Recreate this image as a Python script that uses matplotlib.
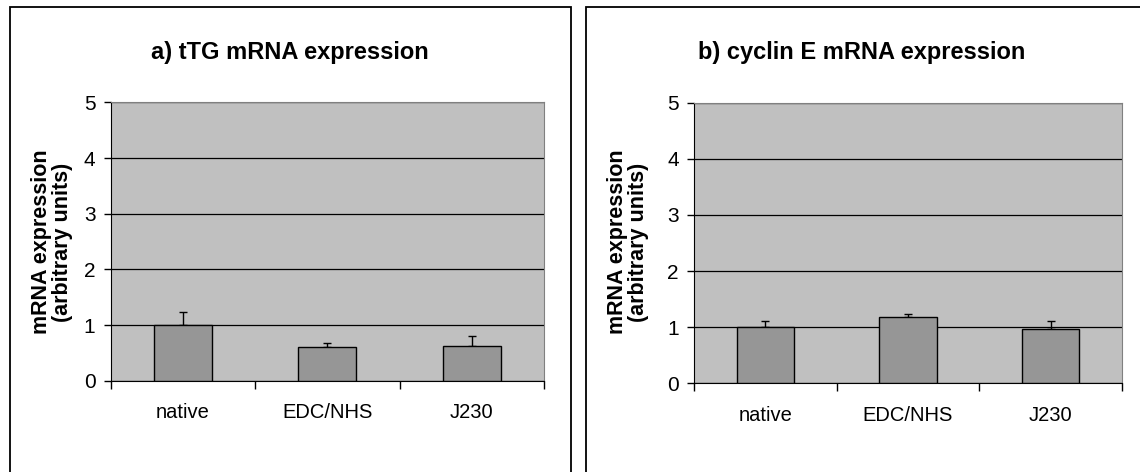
import numpy as np
import matplotlib.pyplot as plt
from matplotlib.patches import Rectangle

plt.rcParams['font.family'] = ['Liberation Sans', 'DejaVu Sans']

# data
categories = ["native", "EDC/NHS", "J230"]
ttg_values = [1.00, 0.60, 0.63]
ttg_err = [0.23, 0.08, 0.18]
cyclin_values = [1.00, 1.18, 0.975]
cyclin_err = [0.11, 0.05, 0.13]
titles = ["a) tTG mRNA expression", "b) cyclin E mRNA expression"]
ylabel = "mRNA expression\n(arbitrary units)"
yticks = [0, 1, 2, 3, 4, 5]

W, H = 1140, 472
fig = plt.figure(figsize=(W / 100, H / 100), dpi=100)

# outer chart boxes (Excel style)
fig.patches.append(Rectangle((10 / W, -0.05), (571 - 10) / W, 1.05 - 7 / H,
                             transform=fig.transFigure, fill=False,
                             edgecolor="black", linewidth=1.3))
fig.patches.append(Rectangle((586 / W, -0.05), (1145 - 586) / W, 1.05 - 7 / H,
                             transform=fig.transFigure, fill=False,
                             edgecolor="black", linewidth=1.3))

# axes rectangles in pixels: left, right, top, bottom
boxes = [(110.7, 544, 102.5, 380.7), (694, 1122, 102.7, 383.3)]
title_x = [290, 862]
ylabel_x = [52, 628]
series = [(ttg_values, ttg_err), (cyclin_values, cyclin_err)]

for i in range(2):
    l, r, t, b = boxes[i]
    ax = fig.add_axes([l / W, (H - b) / H, (r - l) / W, (b - t) / H])
    vals, errs = series[i]
    x = np.arange(len(categories))
    ax.set_facecolor("#c0c0c0")
    ax.bar(x, vals, width=0.4, color="#969696", edgecolor="black",
           linewidth=1.0, zorder=3)
    ax.errorbar(x, vals, yerr=[np.zeros(len(errs)), errs], fmt="none",
                ecolor="black", elinewidth=1.0, capsize=3, capthick=1.0,
                zorder=2)
    ax.set_xlim(-0.5, len(categories) - 0.5)
    ax.set_ylim(0, 5)
    ax.set_yticks(yticks)
    ax.yaxis.grid(True, color="black", linewidth=0.9, zorder=1)
    ax.set_axisbelow(True)
    ax.set_xticks(x)
    ax.set_xticklabels(categories, fontsize=14.5)
    ax.set_xticks(np.arange(-0.5, len(categories)), minor=True)
    ax.tick_params(axis="x", which="major", length=0, pad=16)
    ax.tick_params(axis="x", which="minor", length=6, width=1, direction="out")
    ax.tick_params(axis="y", length=5, width=1, labelsize=15, pad=6)
    for s in ["top", "right"]:
        ax.spines[s].set_color("#808080")
    ax.spines["left"].set_color("black")
    ax.spines["bottom"].set_color("black")

    fig.text(title_x[i] / W, 1 - 52 / H, titles[i], fontsize=17,
             fontweight="bold", ha="center", va="center")
    fig.text(ylabel_x[i] / W, 1 - 242 / H, ylabel, fontsize=15.5,
             fontweight="bold", rotation=90, ha="center", va="center",
             linespacing=1.05)

fig.savefig("out.png", dpi=100)
